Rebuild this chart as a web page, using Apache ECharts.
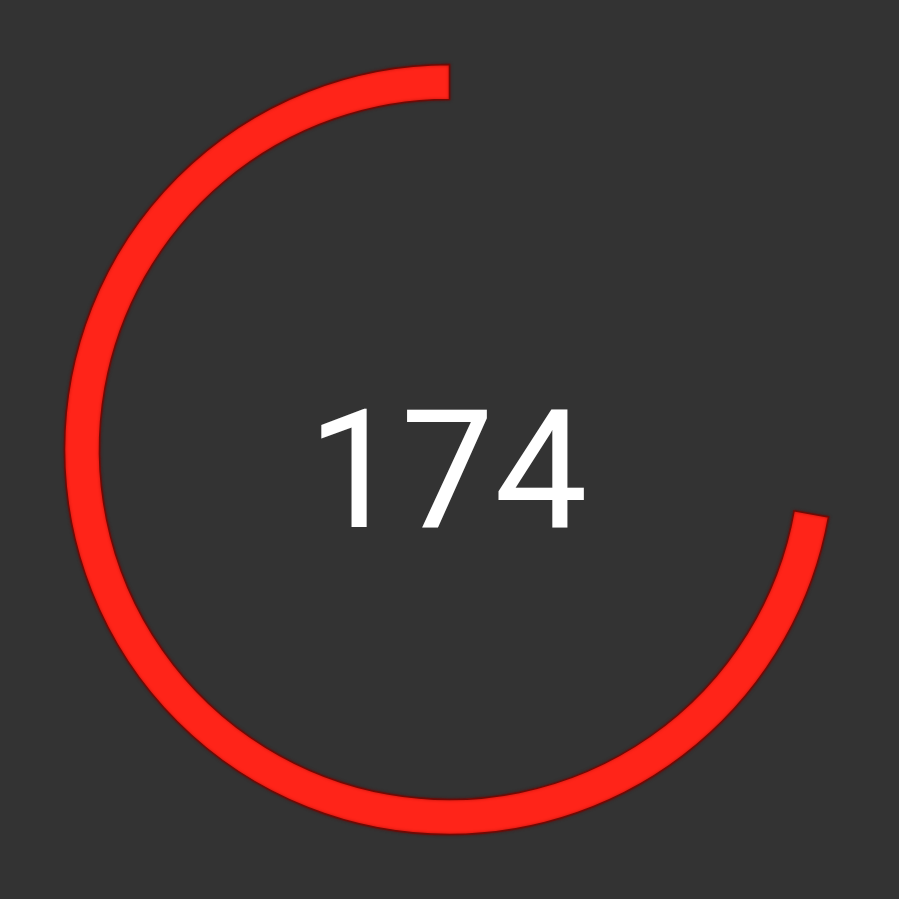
<!DOCTYPE html>
<html>
<head>
<meta charset="utf-8">
<script src="https://cdn.jsdelivr.net/npm/echarts@6/dist/echarts.min.js"></script>
<style>
html,body{margin:0;padding:0;background:#333333;}
#chart{width:899px;height:899px;}
</style>
</head>
<body>
<div id="chart"></div>
<script>
const gaugeMin = 0;
const gaugeMax = 241;
const gaugeValues = [174];

const chart = echarts.init(document.getElementById('chart'));
chart.setOption({
  backgroundColor: '#333333',
  series: [{
    type: 'gauge',
    center: ['50%', '50%'],
    radius: 385,
    startAngle: 90,
    endAngle: -270,
    clockwise: false,
    min: gaugeMin,
    max: gaugeMax,
    pointer: { show: false },
    axisLine: { show: false, lineStyle: { width: 35 } },
    axisTick: { show: false },
    splitLine: { show: false },
    axisLabel: { show: false },
    anchor: { show: false },
    title: { show: false },
    progress: {
      show: true,
      width: 35,
      itemStyle: {
        color: '#ff2419',
        borderColor: '#6e0a05',
        borderWidth: 1.5,
        shadowColor: 'rgba(110,0,0,0.6)',
        shadowBlur: 3
      }
    },
    detail: {
      valueAnimation: false,
      offsetCenter: [-2, 36],
      fontSize: 166,
      fontFamily: 'Roboto',
      fontWeight: 'normal',
      color: '#ffffff',
      formatter: '{value}'
    },
    data: gaugeValues.map(v => ({ value: v }))
  }]
});
</script>
</body>
</html>
